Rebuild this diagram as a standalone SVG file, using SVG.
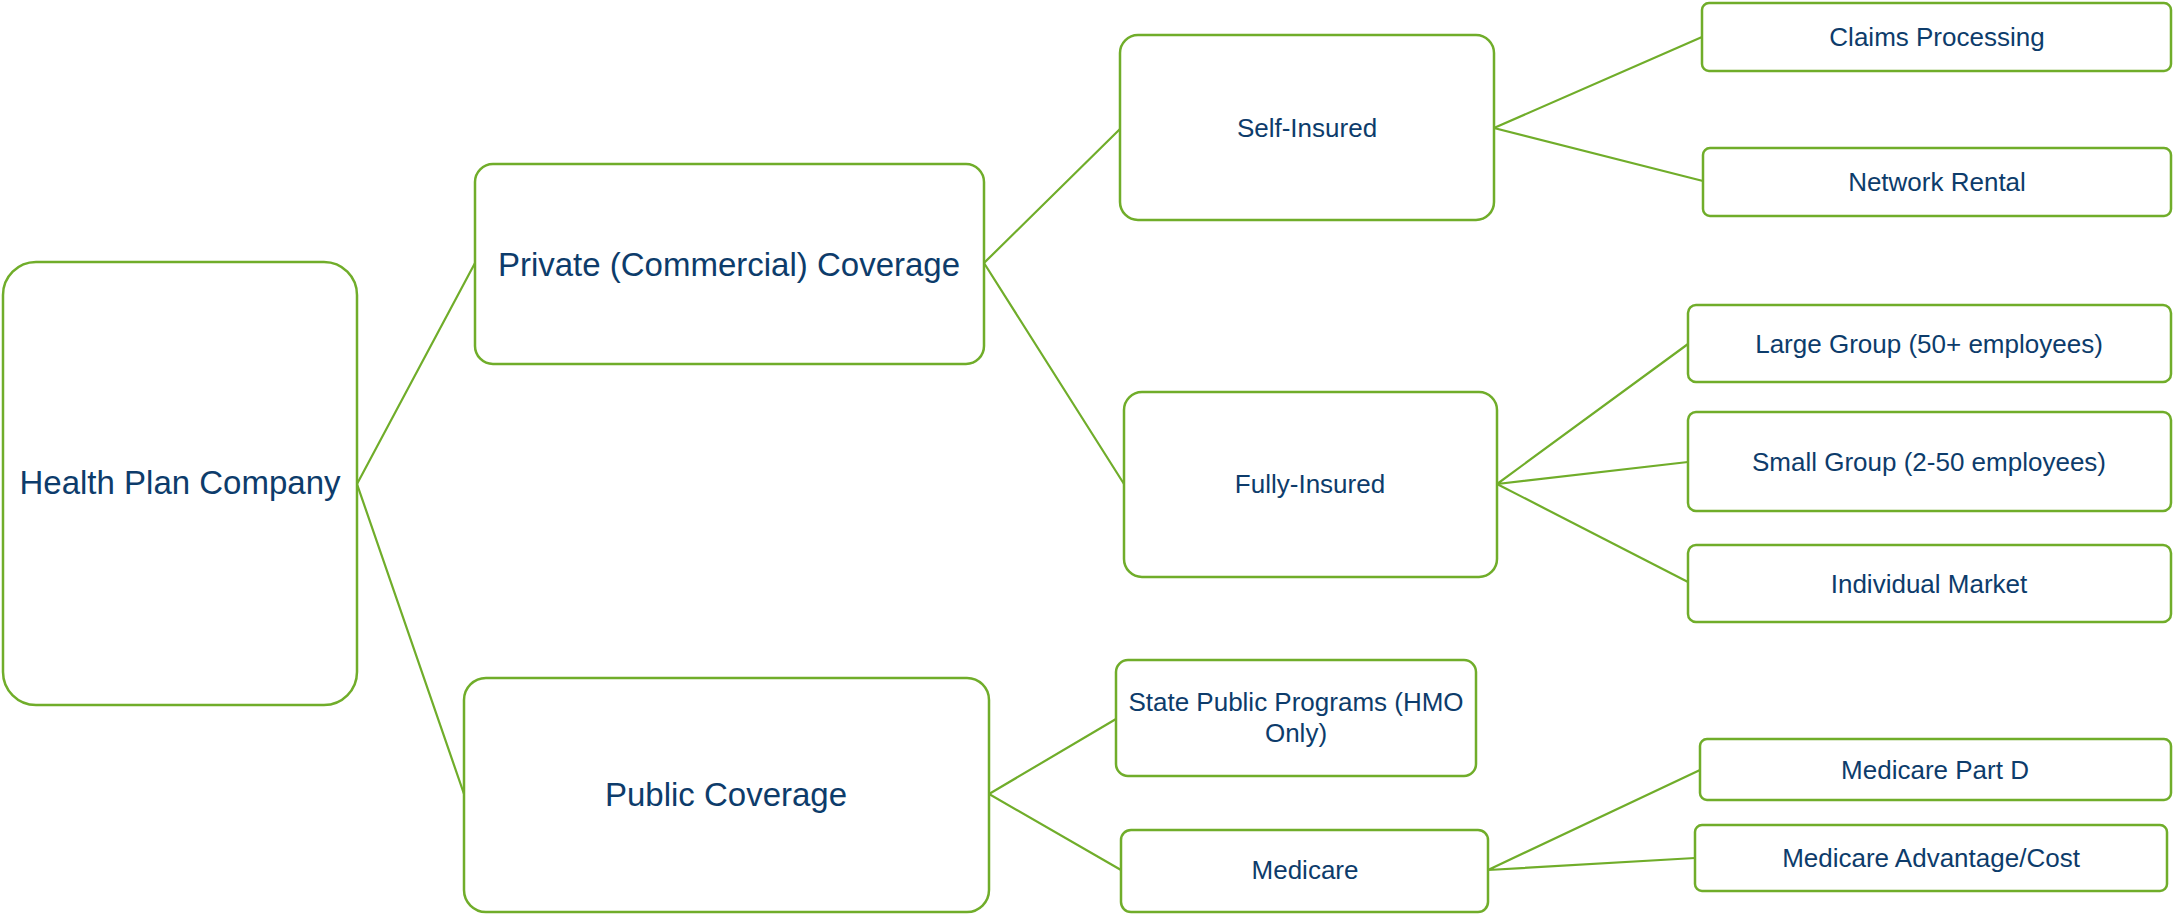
<svg xmlns="http://www.w3.org/2000/svg" width="2173" height="914" viewBox="0 0 2173 914">
  <style>
    .box { fill: #ffffff; stroke: #70ad2a; stroke-width: 2.5; }
    .link { fill: none; stroke: #70ad2a; stroke-width: 2.2; }
    .lbl { font-family: "Liberation Sans", Arial, sans-serif; fill: #0d3c6b; text-anchor: middle; }
    .big { font-size: 33px; }
    .small { font-size: 26px; }
  </style>
  <rect width="2173" height="914" fill="#ffffff"/>

  <!-- tree connectors -->
  <g id="connectors">
    <polyline class="link" points="475,263 357,484 464,794"/>
    <polyline class="link" points="1120,129 984,263 1124,484"/>
    <polyline class="link" points="1116,719 989,794 1121,870"/>
    <polyline class="link" points="1702,37 1494,128 1703,181"/>
    <polyline class="link" points="1688,344 1497,484 1688,462"/>
    <line class="link" x1="1497" y1="484" x2="1688" y2="582"/>
    <polyline class="link" points="1700,770 1488,870 1695,858"/>
  </g>

  <g id="health-plan-company">
    <rect class="box" x="3" y="262" width="354" height="443" rx="33"/>
    <text class="lbl big" x="180" y="494">Health Plan Company</text>
  </g>

  <g id="private-coverage">
    <rect class="box" x="475" y="164" width="509" height="200" rx="18"/>
    <text class="lbl big" x="729" y="276">Private (Commercial) Coverage</text>
  </g>

  <g id="public-coverage">
    <rect class="box" x="464" y="678" width="525" height="234" rx="22"/>
    <text class="lbl big" x="726" y="806">Public Coverage</text>
  </g>

  <g id="self-insured">
    <rect class="box" x="1120" y="35" width="374" height="185" rx="18"/>
    <text class="lbl small" x="1307" y="137">Self-Insured</text>
  </g>

  <g id="fully-insured">
    <rect class="box" x="1124" y="392" width="373" height="185" rx="18"/>
    <text class="lbl small" x="1310" y="493">Fully-Insured</text>
  </g>

  <g id="state-public-programs">
    <rect class="box" x="1116" y="660" width="360" height="116" rx="12"/>
    <text class="lbl small" x="1296" y="711">State Public Programs (HMO</text>
    <text class="lbl small" x="1296" y="742">Only)</text>
  </g>

  <g id="medicare">
    <rect class="box" x="1121" y="830" width="367" height="82" rx="10"/>
    <text class="lbl small" x="1305" y="879">Medicare</text>
  </g>

  <g id="claims-processing">
    <rect class="box" x="1702" y="3" width="469" height="68" rx="7"/>
    <text class="lbl small" x="1937" y="46">Claims Processing</text>
  </g>

  <g id="network-rental">
    <rect class="box" x="1703" y="148" width="468" height="68" rx="7"/>
    <text class="lbl small" x="1937" y="191">Network Rental</text>
  </g>

  <g id="large-group">
    <rect class="box" x="1688" y="305" width="483" height="77" rx="8"/>
    <text class="lbl small" x="1929" y="353">Large Group (50+ employees)</text>
  </g>

  <g id="small-group">
    <rect class="box" x="1688" y="412" width="483" height="99" rx="8"/>
    <text class="lbl small" x="1929" y="471">Small Group (2-50 employees)</text>
  </g>

  <g id="individual-market">
    <rect class="box" x="1688" y="545" width="483" height="77" rx="8"/>
    <text class="lbl small" x="1929" y="593">Individual Market</text>
  </g>

  <g id="medicare-part-d">
    <rect class="box" x="1700" y="739" width="471" height="61" rx="7"/>
    <text class="lbl small" x="1935" y="779">Medicare Part D</text>
  </g>

  <g id="medicare-advantage">
    <rect class="box" x="1695" y="825" width="472" height="66" rx="7"/>
    <text class="lbl small" x="1931" y="867">Medicare Advantage/Cost</text>
  </g>
</svg>
